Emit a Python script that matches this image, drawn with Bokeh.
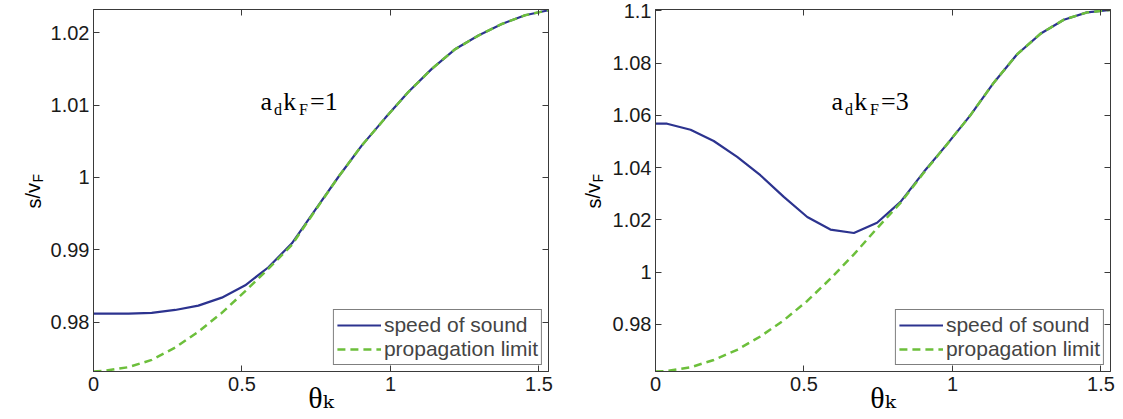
from bokeh.plotting import figure
from bokeh.models import Range1d, FixedTicker, LinearAxis, Label, Legend, LegendItem
from bokeh.layouts import row
from bokeh.embed import file_html
from bokeh.resources import INLINE

# ---------------- data ----------------
theta = [0.0, 0.039, 0.118, 0.196, 0.275, 0.353, 0.432, 0.511, 0.589, 0.668,
         0.746, 0.825, 0.903, 0.982, 1.060, 1.139, 1.217, 1.296, 1.375, 1.453, 1.532]

# a_d k_F = 1
sound_1 = [0.9812, 0.9812, 0.9812, 0.9813, 0.9817, 0.9823, 0.9834, 0.9851, 0.9876, 0.9909,
           0.9955, 1.0001, 1.0044, 1.0082, 1.0118, 1.0150, 1.0177, 1.0196, 1.0212, 1.0224, 1.0231]
limit_1 = [0.9732, 0.9733, 0.9738, 0.9748, 0.9765, 0.9787, 0.9813, 0.9843, 0.9874, 0.9907,
           0.9954, 1.0001, 1.0044, 1.0082, 1.0118, 1.0150, 1.0177, 1.0196, 1.0212, 1.0224, 1.0231]

# a_d k_F = 3
sound_3 = [1.0568, 1.0568, 1.0545, 1.0502, 1.0441, 1.0371, 1.0288, 1.0211, 1.0163, 1.0150,
           1.0189, 1.0269, 1.0383, 1.0490, 1.0600, 1.0725, 1.0833, 1.0912, 1.0966, 1.0994, 1.1003]
limit_3 = [0.9620, 0.9622, 0.9636, 0.9664, 0.9703, 0.9754, 0.9816, 0.9890, 0.9975, 1.0068,
           1.0168, 1.0265, 1.0380, 1.0490, 1.0600, 1.0725, 1.0833, 1.0912, 1.0966, 1.0994, 1.1003]

x_ticks = [0, 0.5, 1, 1.5]
x_tick_labels = ["0", "0.5", "1", "1.5"]

y_ticks_1 = [0.98, 0.99, 1.0, 1.01, 1.02]
y_tick_labels_1 = ["0.98", "0.99", "1", "1.01", "1.02"]

y_ticks_3 = [0.98, 1.0, 1.02, 1.04, 1.06, 1.08, 1.1]
y_tick_labels_3 = ["0.98", "1", "1.02", "1.04", "1.06", "1.08", "1.1"]

legend_labels = ["speed of sound", "propagation limit"]
param_values = ["1", "3"]

# ---------------- style ----------------
BLUE = "#2c338f"
GREEN = "#6cbf3b"
AXIS = "#3a3a3a"
SANS = "Liberation Sans"
SERIF = "Liberation Serif"
H = 419


def ylabel_strip(width, sx):
    """narrow strip holding the rotated y-axis label s/v_F (frame aligned with the panel)"""
    f = figure(width=width, height=H, x_range=Range1d(0, 1), y_range=Range1d(0, 1),
               output_backend="svg", toolbar_location=None,
               x_axis_location=None, y_axis_location=None, min_border=0)
    f.grid.visible = False
    f.outline_line_color = None
    f.add_layout(Label(x=sx, y=163, x_units="screen", y_units="screen", text="s/v",
                       text_font=SANS, text_font_size="20px", angle=1.5708,
                       text_align="left", text_baseline="alphabetic", text_color="black"))
    f.add_layout(Label(x=sx + 4, y=189, x_units="screen", y_units="screen", text="F",
                       text_font=SANS, text_font_size="14px", angle=1.5708,
                       text_align="left", text_baseline="alphabetic", text_color="black"))
    return f


def make_panel(sound, limit, ylo, yhi, yticks, ylabels, param, width, mb_right, ann_dx):
    p = figure(width=width, height=H,
               x_range=Range1d(0, 1.532), y_range=Range1d(ylo, yhi),
               output_backend="svg", toolbar_location=None,
               min_border_left=47, min_border_right=mb_right,
               min_border_top=9, min_border_bottom=48)
    p.xgrid.visible = False
    p.ygrid.visible = False
    p.outline_line_color = AXIS
    p.outline_line_width = 1
    p.background_fill_color = "white"
    p.border_fill_color = "white"

    xt = FixedTicker(ticks=x_ticks)
    yt = FixedTicker(ticks=yticks)

    ax = p.xaxis[0]
    ax.ticker = xt
    ax.major_label_overrides = {t: l for t, l in zip(x_ticks, x_tick_labels)}
    ay = p.yaxis[0]
    ay.ticker = yt
    ay.major_label_overrides = {t: l for t, l in zip(yticks, ylabels)}
    for a in (ax, ay):
        a.major_tick_in = 6
        a.major_tick_out = 0
        a.minor_tick_line_color = None
        a.axis_line_color = AXIS
        a.major_tick_line_color = AXIS
        a.major_label_text_font = SANS
        a.major_label_text_font_size = "20px"
        a.major_label_text_color = "#1a1a1a"
    ax.major_label_standoff = 5
    ay.major_label_standoff = 4

    # x-axis label theta_k
    ax.axis_label = "\u03b8\u2096"
    ax.axis_label_text_font = "Liberation Serif, DejaVu Serif"
    ax.axis_label_text_font_size = "30px"
    ax.axis_label_text_font_style = "normal"
    ax.axis_label_text_color = "black"
    ax.axis_label_standoff = -13

    # mirrored ticks on the top and right sides (MATLAB box style)
    for loc, tk in (("above", xt), ("right", yt)):
        a = LinearAxis(ticker=tk, major_tick_in=6, major_tick_out=0,
                       minor_tick_line_color=None, axis_line_color=AXIS,
                       major_tick_line_color=AXIS, major_label_text_font_size="1px",
                       major_label_text_color=None, major_label_standoff=0)
        p.add_layout(a, loc)

    r1 = p.line(theta, sound, line_color=BLUE, line_width=2.2)
    r2 = p.line(theta, limit, line_color=GREEN, line_width=2.5, line_dash="8 5")

    leg = Legend(items=[LegendItem(label=legend_labels[0], renderers=[r1]),
                        LegendItem(label=legend_labels[1], renderers=[r2])],
                 location="bottom_right", margin=6, padding=3, spacing=0,
                 glyph_width=44, glyph_height=22, label_height=22, label_standoff=3,
                 label_text_font=SANS, label_text_font_size="21px",
                 border_line_color="black", border_line_width=1,
                 background_fill_color="white", background_fill_alpha=1)
    p.add_layout(leg)

    def lab(x, y, text, size):
        p.add_layout(Label(x=x, y=y, x_units="screen", y_units="screen", text=text,
                           text_font=SERIF, text_font_size=size,
                           text_align="left", text_baseline="alphabetic",
                           text_color="black"))

    # parameter annotation  a_d k_F = n
    lab(ann_dx, 270, "a", "26px")
    lab(ann_dx + 13.5, 262, "d", "16px")
    lab(ann_dx + 22.8, 270, "k", "26px")
    lab(ann_dx + 38.5, 262, "F", "16px")
    lab(ann_dx + 49.5, 270, "=" + param, "26px")
    return p


yl1 = ylabel_strip(46, 33)
p1 = make_panel(sound_1, limit_1, 0.9732, 1.0232, y_ticks_1, y_tick_labels_1,
                param_values[0], 524, 22, 167)
yl2 = ylabel_strip(38, 23)
p2 = make_panel(sound_3, limit_3, 0.9620, 1.1005, y_ticks_3, y_tick_labels_3,
                param_values[1], 515, 13, 176)

layout = row(yl1, p1, yl2, p2)
open("out.html", "w").write(file_html(layout, INLINE))
